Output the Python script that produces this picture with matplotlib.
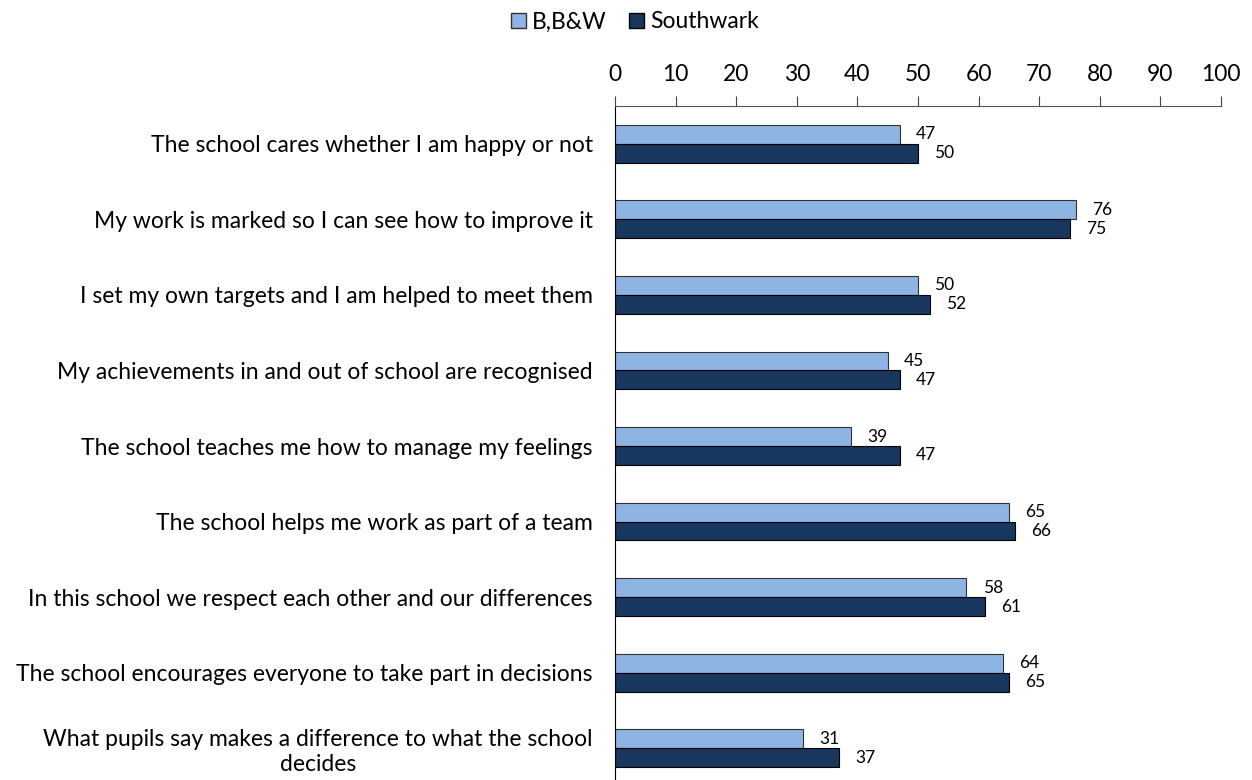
import numpy as np
import matplotlib
matplotlib.use("Agg")
import matplotlib.pyplot as plt
from matplotlib.patches import Patch

plt.rcParams['font.family'] = ['Lato', 'DejaVu Sans']

categories = [
    "The school cares whether I am happy or not",
    "My work is marked so I can see how to improve it",
    "I set my own targets and I am helped to meet them",
    "My achievements in and out of school are recognised",
    "The school teaches me how to manage my feelings",
    "The school helps me work as part of a team",
    "In this school we respect each other and our differences",
    "The school encourages everyone to take part in decisions",
    "What pupils say makes a difference to what the school\ndecides",
]
bbw = [47, 76, 50, 45, 39, 65, 58, 64, 31]
southwark = [50, 75, 52, 47, 47, 66, 61, 65, 37]

light = "#8EB4E3"
dark = "#17375E"

fig = plt.figure(figsize=(12.52, 7.8), dpi=100)
ax = fig.add_axes([615 / 1252, -6 / 780, (1221 - 615) / 1252, (786 - 106) / 780])

y = np.arange(len(categories))
h = 0.25
ax.barh(y - h / 2, bbw, height=h, color=light, edgecolor="#333333", linewidth=0.8)
ax.barh(y + h / 2, southwark, height=h, color=dark, edgecolor="black", linewidth=0.8)

for yi, v in zip(y, bbw):
    ax.text(v + 2.7, yi - h / 2, str(v), va="center", ha="left", fontsize=12.5)
for yi, v in zip(y, southwark):
    ax.text(v + 2.7, yi + h / 2, str(v), va="center", ha="left", fontsize=12.5)

ax.set_xlim(0, 100)
ax.set_ylim(len(categories) - 0.5, -0.5)
ax.set_xticks(range(0, 101, 10))
ax.xaxis.tick_top()
ax.tick_params(axis="x", direction="out", length=7, labelsize=16.5, pad=8, color="#444444")
ax.tick_params(axis="y", length=0, labelsize=16.5, pad=16)
ax.set_yticks(y)
ax.set_yticklabels(categories)
for lab in ax.get_yticklabels():
    lab.set_horizontalalignment("right")
    lab.set_multialignment("center")

ax.spines["right"].set_visible(False)
ax.spines["bottom"].set_visible(False)
ax.spines["top"].set_color("#555555")
ax.spines["left"].set_color("black")

handles = [Patch(facecolor=light, edgecolor="#333333", label="B,B&W"),
           Patch(facecolor=dark, edgecolor="black", label="Southwark")]
fig.legend(handles=handles, loc="center", bbox_to_anchor=(635 / 1252, 1 - 22 / 780),
           ncol=2, frameon=False, fontsize=16.5, handlelength=0.65, handleheight=0.65,
           handletextpad=0.25, columnspacing=1.0)

fig.savefig("out.png", dpi=100)
